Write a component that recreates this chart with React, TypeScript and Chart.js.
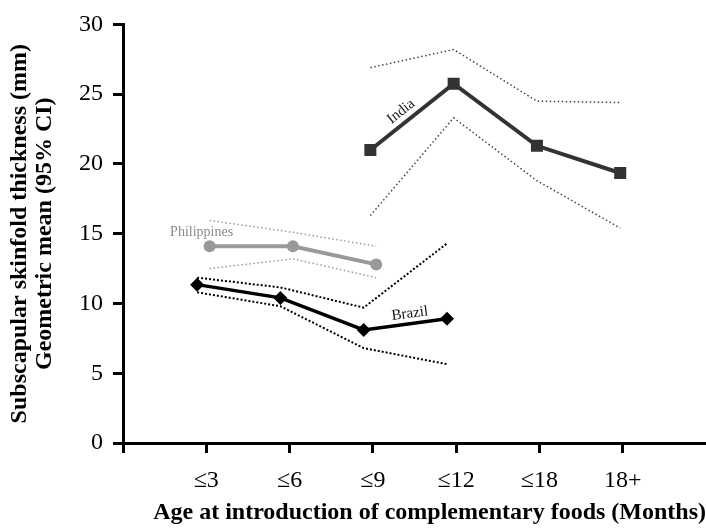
import React, { useEffect, useRef } from "react";
import { Chart, registerables } from "chart.js";

Chart.register(...registerables);

const categories = ["≤3", "≤6", "≤9", "≤12", "≤18", "18+"];
const yTicks = [0, 5, 10, 15, 20, 25, 30];

// values per category (null = not reported)
const brazilMean = [11.35, 10.4, 8.1, 8.9, null, null];
const brazilUpper = [11.85, 11.15, 9.7, 14.3, null, null];
const brazilLower = [10.8, 9.8, 6.8, 5.65, null, null];

const philMean = [14.1, 14.1, 12.8, null, null, null];
const philUpper = [15.95, 15.1, 14.1, null, null, null];
const philLower = [12.5, 13.2, 11.85, null, null, null];

const indiaMean = [null, null, 21.0, 25.75, 21.3, 19.35];
const indiaUpper = [null, null, 26.9, 28.2, 24.5, 24.4];
const indiaLower = [null, null, 16.3, 23.3, 18.8, 15.4];

const dodge = { brazil: -0.11, phil: 0.04, india: -0.03 };

const SERIF = "'Liberation Serif', 'Times New Roman', serif";

function pts(values: (number | null)[], dx: number) {
  return values.map((v, i) => ({ x: i + 1 + dx, y: v }));
}

const labelPlugin = {
  id: "seriesLabels",
  afterDatasetsDraw(chart: any) {
    const ctx = chart.ctx;
    const items = [
      { text: "India", ds: 6, a: 2, b: 3, t: 0.45, off: 11, color: "#222", size: 15, rotate: true },
      { text: "Brazil", ds: 0, a: 2, b: 3, t: 0.57, off: 10, color: "#111", size: 15, rotate: true },
      { text: "Philippines", ds: 3, a: 0, b: 0, t: 0, off: 14, color: "#8a8a8a", size: 14, rotate: false },
    ];
    items.forEach((it) => {
      const meta = chart.getDatasetMeta(it.ds);
      const p1 = meta.data[it.a];
      const p2 = meta.data[it.b];
      if (!p1 || !p2) return;
      const x = p1.x + (p2.x - p1.x) * it.t;
      const y = p1.y + (p2.y - p1.y) * it.t;
      const ang = it.rotate ? Math.atan2(p2.y - p1.y, p2.x - p1.x) : 0;
      ctx.save();
      ctx.translate(x, y);
      ctx.rotate(ang);
      ctx.font = `${it.size}px ${SERIF}`;
      ctx.fillStyle = it.color;
      ctx.textAlign = "center";
      ctx.textBaseline = "middle";
      ctx.fillText(it.text, it.rotate ? 0 : -8, -it.off);
      ctx.restore();
    });
  },
};

export default function App() {
  const ref = useRef<HTMLCanvasElement | null>(null);
  useEffect(() => {
    if (!ref.current) return;
    const mainLine = (label: string, data: any, color: string, style: any, radius: number, width: number) => ({
      label,
      data,
      borderColor: color,
      backgroundColor: color,
      borderWidth: width,
      pointStyle: style,
      pointRadius: radius,
      pointBorderWidth: 0,
      pointBackgroundColor: color,
      spanGaps: false,
      tension: 0,
    });
    const ciLine = (label: string, data: any, color: string, width: number, dash: number[]) => ({
      label,
      data,
      borderColor: color,
      borderWidth: width,
      borderDash: dash,
      pointRadius: 0,
      spanGaps: false,
      tension: 0,
    });
    const chart = new Chart(ref.current, {
      type: "line",
      data: {
        datasets: [
          mainLine("Brazil", pts(brazilMean, dodge.brazil), "#000000", "rectRot", 7, 3.5),
          ciLine("Brazil upper", pts(brazilUpper, dodge.brazil), "#000000", 2, [2, 2]),
          ciLine("Brazil lower", pts(brazilLower, dodge.brazil), "#000000", 2, [2, 2]),
          mainLine("Philippines", pts(philMean, dodge.phil), "#999999", "circle", 6, 4),
          ciLine("Philippines upper", pts(philUpper, dodge.phil), "#9a9a9a", 1.5, [1.5, 2.5]),
          ciLine("Philippines lower", pts(philLower, dodge.phil), "#9a9a9a", 1.5, [1.5, 2.5]),
          mainLine("India", pts(indiaMean, dodge.india), "#333333", "rect", 8.5, 4),
          ciLine("India upper", pts(indiaUpper, dodge.india), "#444444", 1.5, [1.5, 2.5]),
          ciLine("India lower", pts(indiaLower, dodge.india), "#444444", 1.5, [1.5, 2.5]),
        ] as any,
      },
      options: {
        animation: false,
        responsive: false,
        layout: { autoPadding: false, padding: { top: 18, right: 0, left: 0, bottom: 0 } },
        plugins: { legend: { display: false }, tooltip: { enabled: false } },
        scales: {
          x: {
            type: "linear",
            min: 0,
            max: categories.length + 1,
            afterBuildTicks: (scale: any) => {
              const t: any[] = [];
              for (let i = 0; i <= categories.length; i++) t.push({ value: i });
              scale.ticks = t;
            },
            afterFit: (scale: any) => {
              scale.height = 88;
            },
            grid: { drawOnChartArea: false, drawTicks: true, tickLength: 10, tickWidth: 3, tickColor: "#000" },
            border: { display: true, width: 3, color: "#000" },
            ticks: {
              padding: 13,
              maxRotation: 0,
              autoSkip: false,
              color: "#000",
              font: { family: SERIF, size: 24 },
              callback: (v: any) => {
                const i = Math.round(Number(v)) - 1;
                return i >= 0 && i < categories.length ? categories[i] : "";
              },
            },
            title: {
              display: true,
              align: "end",
              text: "Age at introduction of complementary foods (Months)",
              color: "#000",
              font: { family: SERIF, size: 24, weight: "bold", lineHeight: 1.2 },
              padding: 4,
            },
          },
          y: {
            min: 0,
            max: 30,
            afterBuildTicks: (scale: any) => {
              scale.ticks = yTicks.map((v) => ({ value: v }));
            },
            afterFit: (scale: any) => {
              scale.width = 123;
            },
            grid: { drawOnChartArea: false, drawTicks: true, tickLength: 10, tickWidth: 3, tickColor: "#000" },
            border: { display: true, width: 3, color: "#000" },
            ticks: {
              padding: 10,
              color: "#000",
              font: { family: SERIF, size: 24 },
            },
            title: {
              display: true,
              text: ["Subscapular skinfold thickness (mm)", "Geometric mean (95% CI)"],
              color: "#000",
              font: { family: SERIF, size: 24, weight: "bold", lineHeight: 1.05 },
              padding: 7,
            },
          },
        },
      } as any,
      plugins: [labelPlugin],
    });
    return () => chart.destroy();
  }, []);
  return (
    <div style={{ position: "fixed", left: 0, top: 0, width: 706, height: 531, background: "#fff" }}>
      <canvas ref={ref} width={706} height={531} />
    </div>
  );
}
